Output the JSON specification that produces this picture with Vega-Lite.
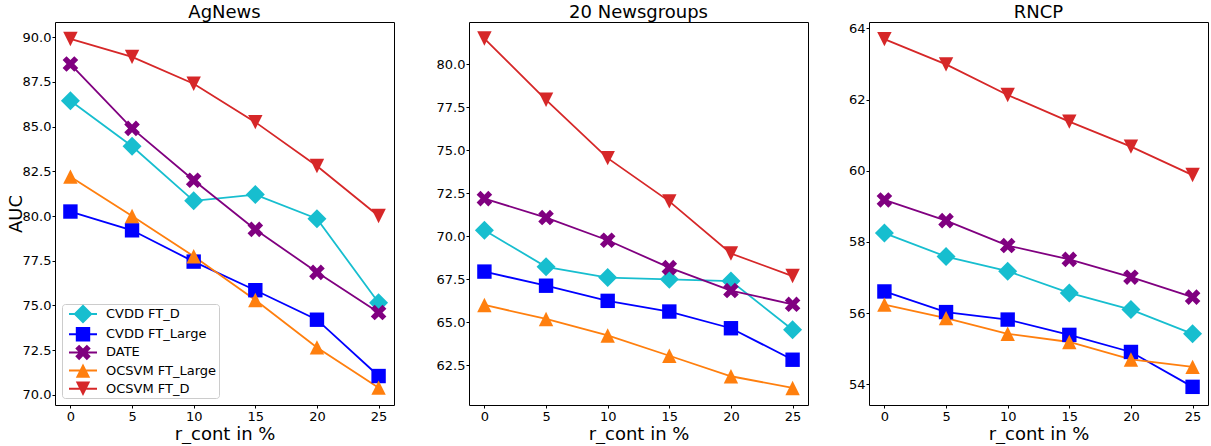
{
  "$schema": "https://vega.github.io/schema/vega-lite/v6.json",
  "padding": {"left": 6, "top": 3, "right": 0, "bottom": 0},
  "datasets": {
    "auc": [
      {"d": "AgNews", "s": "CVDD FT_D", "x": 0, "y": 86.45},
      {"d": "AgNews", "s": "CVDD FT_D", "x": 5, "y": 83.9},
      {"d": "AgNews", "s": "CVDD FT_D", "x": 10, "y": 80.85},
      {"d": "AgNews", "s": "CVDD FT_D", "x": 15, "y": 81.2},
      {"d": "AgNews", "s": "CVDD FT_D", "x": 20, "y": 79.85},
      {"d": "AgNews", "s": "CVDD FT_D", "x": 25, "y": 75.15},
      {"d": "AgNews", "s": "CVDD FT_Large", "x": 0, "y": 80.25},
      {"d": "AgNews", "s": "CVDD FT_Large", "x": 5, "y": 79.2},
      {"d": "AgNews", "s": "CVDD FT_Large", "x": 10, "y": 77.45},
      {"d": "AgNews", "s": "CVDD FT_Large", "x": 15, "y": 75.85},
      {"d": "AgNews", "s": "CVDD FT_Large", "x": 20, "y": 74.2},
      {"d": "AgNews", "s": "CVDD FT_Large", "x": 25, "y": 71.05},
      {"d": "AgNews", "s": "DATE", "x": 0, "y": 88.5},
      {"d": "AgNews", "s": "DATE", "x": 5, "y": 84.9},
      {"d": "AgNews", "s": "DATE", "x": 10, "y": 82.0},
      {"d": "AgNews", "s": "DATE", "x": 15, "y": 79.25},
      {"d": "AgNews", "s": "DATE", "x": 20, "y": 76.85},
      {"d": "AgNews", "s": "DATE", "x": 25, "y": 74.6},
      {"d": "AgNews", "s": "OCSVM FT_Large", "x": 0, "y": 82.2},
      {"d": "AgNews", "s": "OCSVM FT_Large", "x": 5, "y": 80.0},
      {"d": "AgNews", "s": "OCSVM FT_Large", "x": 10, "y": 77.75},
      {"d": "AgNews", "s": "OCSVM FT_Large", "x": 15, "y": 75.3},
      {"d": "AgNews", "s": "OCSVM FT_Large", "x": 20, "y": 72.65},
      {"d": "AgNews", "s": "OCSVM FT_Large", "x": 25, "y": 70.4},
      {"d": "AgNews", "s": "OCSVM FT_D", "x": 0, "y": 89.9},
      {"d": "AgNews", "s": "OCSVM FT_D", "x": 5, "y": 88.9},
      {"d": "AgNews", "s": "OCSVM FT_D", "x": 10, "y": 87.4},
      {"d": "AgNews", "s": "OCSVM FT_D", "x": 15, "y": 85.25},
      {"d": "AgNews", "s": "OCSVM FT_D", "x": 20, "y": 82.8},
      {"d": "AgNews", "s": "OCSVM FT_D", "x": 25, "y": 80.0},
      {"d": "20 Newsgroups", "s": "CVDD FT_D", "x": 0, "y": 70.35},
      {"d": "20 Newsgroups", "s": "CVDD FT_D", "x": 5, "y": 68.23},
      {"d": "20 Newsgroups", "s": "CVDD FT_D", "x": 10, "y": 67.6},
      {"d": "20 Newsgroups", "s": "CVDD FT_D", "x": 15, "y": 67.5},
      {"d": "20 Newsgroups", "s": "CVDD FT_D", "x": 20, "y": 67.4},
      {"d": "20 Newsgroups", "s": "CVDD FT_D", "x": 25, "y": 64.57},
      {"d": "20 Newsgroups", "s": "CVDD FT_Large", "x": 0, "y": 67.95},
      {"d": "20 Newsgroups", "s": "CVDD FT_Large", "x": 5, "y": 67.13},
      {"d": "20 Newsgroups", "s": "CVDD FT_Large", "x": 10, "y": 66.25},
      {"d": "20 Newsgroups", "s": "CVDD FT_Large", "x": 15, "y": 65.63},
      {"d": "20 Newsgroups", "s": "CVDD FT_Large", "x": 20, "y": 64.66},
      {"d": "20 Newsgroups", "s": "CVDD FT_Large", "x": 25, "y": 62.83},
      {"d": "20 Newsgroups", "s": "DATE", "x": 0, "y": 72.19},
      {"d": "20 Newsgroups", "s": "DATE", "x": 5, "y": 71.09},
      {"d": "20 Newsgroups", "s": "DATE", "x": 10, "y": 69.77},
      {"d": "20 Newsgroups", "s": "DATE", "x": 15, "y": 68.18},
      {"d": "20 Newsgroups", "s": "DATE", "x": 20, "y": 66.85},
      {"d": "20 Newsgroups", "s": "DATE", "x": 25, "y": 66.05},
      {"d": "20 Newsgroups", "s": "OCSVM FT_Large", "x": 0, "y": 66.01},
      {"d": "20 Newsgroups", "s": "OCSVM FT_Large", "x": 5, "y": 65.2},
      {"d": "20 Newsgroups", "s": "OCSVM FT_Large", "x": 10, "y": 64.24},
      {"d": "20 Newsgroups", "s": "OCSVM FT_Large", "x": 15, "y": 63.06},
      {"d": "20 Newsgroups", "s": "OCSVM FT_Large", "x": 20, "y": 61.87},
      {"d": "20 Newsgroups", "s": "OCSVM FT_Large", "x": 25, "y": 61.19},
      {"d": "20 Newsgroups", "s": "OCSVM FT_D", "x": 0, "y": 81.49},
      {"d": "20 Newsgroups", "s": "OCSVM FT_D", "x": 5, "y": 77.93},
      {"d": "20 Newsgroups", "s": "OCSVM FT_D", "x": 10, "y": 74.54},
      {"d": "20 Newsgroups", "s": "OCSVM FT_D", "x": 15, "y": 72.03},
      {"d": "20 Newsgroups", "s": "OCSVM FT_D", "x": 20, "y": 69.0},
      {"d": "20 Newsgroups", "s": "OCSVM FT_D", "x": 25, "y": 67.69},
      {"d": "RNCP", "s": "CVDD FT_D", "x": 0, "y": 58.25},
      {"d": "RNCP", "s": "CVDD FT_D", "x": 5, "y": 57.59},
      {"d": "RNCP", "s": "CVDD FT_D", "x": 10, "y": 57.18},
      {"d": "RNCP", "s": "CVDD FT_D", "x": 15, "y": 56.57},
      {"d": "RNCP", "s": "CVDD FT_D", "x": 20, "y": 56.1},
      {"d": "RNCP", "s": "CVDD FT_D", "x": 25, "y": 55.42},
      {"d": "RNCP", "s": "CVDD FT_Large", "x": 0, "y": 56.61},
      {"d": "RNCP", "s": "CVDD FT_Large", "x": 5, "y": 56.03},
      {"d": "RNCP", "s": "CVDD FT_Large", "x": 10, "y": 55.82},
      {"d": "RNCP", "s": "CVDD FT_Large", "x": 15, "y": 55.39},
      {"d": "RNCP", "s": "CVDD FT_Large", "x": 20, "y": 54.91},
      {"d": "RNCP", "s": "CVDD FT_Large", "x": 25, "y": 53.93},
      {"d": "RNCP", "s": "DATE", "x": 0, "y": 59.18},
      {"d": "RNCP", "s": "DATE", "x": 5, "y": 58.6},
      {"d": "RNCP", "s": "DATE", "x": 10, "y": 57.9},
      {"d": "RNCP", "s": "DATE", "x": 15, "y": 57.51},
      {"d": "RNCP", "s": "DATE", "x": 20, "y": 57.01},
      {"d": "RNCP", "s": "DATE", "x": 25, "y": 56.45},
      {"d": "RNCP", "s": "OCSVM FT_Large", "x": 0, "y": 56.24},
      {"d": "RNCP", "s": "OCSVM FT_Large", "x": 5, "y": 55.86},
      {"d": "RNCP", "s": "OCSVM FT_Large", "x": 10, "y": 55.42},
      {"d": "RNCP", "s": "OCSVM FT_Large", "x": 15, "y": 55.19},
      {"d": "RNCP", "s": "OCSVM FT_Large", "x": 20, "y": 54.7},
      {"d": "RNCP", "s": "OCSVM FT_Large", "x": 25, "y": 54.49},
      {"d": "RNCP", "s": "OCSVM FT_D", "x": 0, "y": 63.7},
      {"d": "RNCP", "s": "OCSVM FT_D", "x": 5, "y": 62.99},
      {"d": "RNCP", "s": "OCSVM FT_D", "x": 10, "y": 62.13},
      {"d": "RNCP", "s": "OCSVM FT_D", "x": 15, "y": 61.38},
      {"d": "RNCP", "s": "OCSVM FT_D", "x": 20, "y": 60.68},
      {"d": "RNCP", "s": "OCSVM FT_D", "x": 25, "y": 59.88}
    ]
  },
  "data": {"name": "auc"},
  "spacing": 40,
  "resolve": {"scale": {"color": "independent", "shape": "independent"}, "legend": {"color": "independent", "shape": "independent"}},
  "hconcat": [
    {
      "width": 339,
      "height": 383,
      "title": "AgNews",
      "transform": [{"filter": "datum.d === 'AgNews'"}],
      "encoding": {
        "x": {"field": "x", "type": "quantitative", "scale": {"domain": [-1.25, 26.25], "nice": false, "zero": false}, "axis": {"values": [0, 5, 10, 15, 20, 25], "title": "r_cont in %", "labelPadding": 2, "titlePadding": 2.5}},
        "y": {"field": "y", "type": "quantitative", "scale": {"domain": [69.43, 90.85], "nice": false, "zero": false}, "axis": {"values": [70, 72.5, 75, 77.5, 80, 82.5, 85, 87.5, 90], "format": ".1f", "title": "AUC", "titlePadding": -3}}
      },
      "resolve": {"scale": {"color": "independent", "shape": "independent"}},
      "layer": [
        {
          "mark": {"type": "line", "strokeWidth": 1.8},
          "encoding": {
            "stroke": {"field": "s", "type": "nominal", "legend": null, "scale": {"domain": ["CVDD FT_D", "CVDD FT_Large", "DATE", "OCSVM FT_Large", "OCSVM FT_D"], "range": ["#17becf", "#0000ff", "#800080", "#ff7f0e", "#d62728"]}}
          }
        },
        {
          "mark": {"type": "point", "filled": true, "opacity": 1, "size": 400},
          "encoding": {
            "color": {"field": "s", "type": "nominal", "legend": null, "scale": {"domain": ["CVDD FT_D", "CVDD FT_Large", "DATE", "OCSVM FT_Large", "OCSVM FT_D"], "range": ["#17becf", "#0000ff", "#800080", "#ff7f0e", "#d62728"]}},
            "shape": {"field": "s", "type": "nominal", "legend": null, "scale": {"domain": ["CVDD FT_D", "CVDD FT_Large", "DATE", "OCSVM FT_Large", "OCSVM FT_D"], "range": ["M-0.95,0L0,-0.95L0.95,0L0,0.95Z", "M-0.72,-0.72H0.72V0.72H-0.72Z", "M0.39,-0.78L0.78,-0.39L0.39,0L0.78,0.39L0.39,0.78L0,0.39L-0.39,0.78L-0.78,0.39L-0.39,0L-0.78,-0.39L-0.39,-0.78L0,-0.39Z", "M0,-0.72L0.72,0.72L-0.72,0.72Z", "M0,0.72L-0.72,-0.72L0.72,-0.72Z"]}}
          }
        },
        {
          "transform": [{"filter": "datum.x < -100"}],
          "mark": {"type": "point", "filled": true, "opacity": 1, "size": 256},
          "encoding": {
            "color": {"field": "s", "type": "nominal", "scale": {"domain": ["CVDD FT_D", "CVDD FT_Large", "DATE", "OCSVM FT_Large", "OCSVM FT_D"], "range": ["#17becf", "#0000ff", "#800080", "#ff7f0e", "#d62728"]},
              "legend": {"title": null, "orient": "bottom-left", "offset": 7, "padding": 2, "rowPadding": 2.2, "symbolOffset": 11, "labelOffset": 15, "labelFontSize": 13, "labelFont": "DejaVu Sans", "labelColor": "#000", "labelLimit": 300, "fillColor": "rgba(255,255,255,0.8)", "strokeColor": "#cccccc", "cornerRadius": 3, "symbolSize": 256, "symbolStrokeWidth": 0}},
            "shape": {"field": "s", "type": "nominal", "scale": {"domain": ["CVDD FT_D", "CVDD FT_Large", "DATE", "OCSVM FT_Large", "OCSVM FT_D"], "range": ["M-1.75,-0.125H1.75V0.125H-1.75ZM-1.19,0L0,-1.19L1.19,0L0,1.19Z", "M-1.75,-0.125H1.75V0.125H-1.75ZM-0.9,-0.9H0.9V0.9H-0.9Z", "M-1.75,-0.125H1.75V0.125H-1.75ZM0.48,-0.97L0.97,-0.48L0.48,0L0.97,0.48L0.48,0.97L0,0.48L-0.48,0.97L-0.97,0.48L-0.48,0L-0.97,-0.48L-0.48,-0.97L0,-0.48Z", "M-1.75,-0.125H1.75V0.125H-1.75ZM0,-0.9L0.9,0.9L-0.9,0.9Z", "M-1.75,-0.125H1.75V0.125H-1.75ZM0,0.9L-0.9,-0.9L0.9,-0.9Z"]},
              "legend": {"title": null, "orient": "bottom-left", "offset": 7, "padding": 2, "rowPadding": 2.2, "symbolOffset": 11, "labelOffset": 15, "labelFontSize": 13, "labelFont": "DejaVu Sans", "labelColor": "#000", "labelLimit": 300, "fillColor": "rgba(255,255,255,0.8)", "strokeColor": "#cccccc", "cornerRadius": 3, "symbolSize": 256, "symbolStrokeWidth": 0}}
          }
        }
      ]
    },
    {
      "spacing": 38,
      "resolve": {"scale": {"color": "independent", "shape": "independent"}, "legend": {"color": "independent", "shape": "independent"}},
      "hconcat": [
        {
          "width": 339,
          "height": 383,
          "title": "20 Newsgroups",
          "transform": [{"filter": "datum.d === '20 Newsgroups'"}],
          "encoding": {
            "x": {"field": "x", "type": "quantitative", "scale": {"domain": [-1.25, 26.25], "nice": false, "zero": false}, "axis": {"values": [0, 5, 10, 15, 20, 25], "title": "r_cont in %", "labelPadding": 2, "titlePadding": 2.5}},
            "y": {"field": "y", "type": "quantitative", "scale": {"domain": [60.2, 82.45], "nice": false, "zero": false}, "axis": {"values": [62.5, 65, 67.5, 70, 72.5, 75, 77.5, 80], "format": ".1f", "title": null}}
          },
          "layer": [
            {
              "mark": {"type": "line", "strokeWidth": 1.8},
              "encoding": {
                "stroke": {"field": "s", "type": "nominal", "legend": null, "scale": {"domain": ["CVDD FT_D", "CVDD FT_Large", "DATE", "OCSVM FT_Large", "OCSVM FT_D"], "range": ["#17becf", "#0000ff", "#800080", "#ff7f0e", "#d62728"]}}
              }
            },
            {
              "mark": {"type": "point", "filled": true, "opacity": 1, "size": 400},
              "encoding": {
                "color": {"field": "s", "type": "nominal", "legend": null, "scale": {"domain": ["CVDD FT_D", "CVDD FT_Large", "DATE", "OCSVM FT_Large", "OCSVM FT_D"], "range": ["#17becf", "#0000ff", "#800080", "#ff7f0e", "#d62728"]}},
                "shape": {"field": "s", "type": "nominal", "legend": null, "scale": {"domain": ["CVDD FT_D", "CVDD FT_Large", "DATE", "OCSVM FT_Large", "OCSVM FT_D"], "range": ["M-0.95,0L0,-0.95L0.95,0L0,0.95Z", "M-0.72,-0.72H0.72V0.72H-0.72Z", "M0.39,-0.78L0.78,-0.39L0.39,0L0.78,0.39L0.39,0.78L0,0.39L-0.39,0.78L-0.78,0.39L-0.39,0L-0.78,-0.39L-0.39,-0.78L0,-0.39Z", "M0,-0.72L0.72,0.72L-0.72,0.72Z", "M0,0.72L-0.72,-0.72L0.72,-0.72Z"]}}
              }
            }
          ]
        },
        {
          "width": 339,
          "height": 383,
          "title": "RNCP",
          "transform": [{"filter": "datum.d === 'RNCP'"}],
          "encoding": {
            "x": {"field": "x", "type": "quantitative", "scale": {"domain": [-1.25, 26.25], "nice": false, "zero": false}, "axis": {"values": [0, 5, 10, 15, 20, 25], "title": "r_cont in %", "labelPadding": 2, "titlePadding": 2.5}},
            "y": {"field": "y", "type": "quantitative", "scale": {"domain": [53.42, 64.18], "nice": false, "zero": false}, "axis": {"values": [54, 56, 58, 60, 62, 64], "format": "d", "title": null}}
          },
          "layer": [
            {
              "mark": {"type": "line", "strokeWidth": 1.8},
              "encoding": {
                "stroke": {"field": "s", "type": "nominal", "legend": null, "scale": {"domain": ["CVDD FT_D", "CVDD FT_Large", "DATE", "OCSVM FT_Large", "OCSVM FT_D"], "range": ["#17becf", "#0000ff", "#800080", "#ff7f0e", "#d62728"]}}
              }
            },
            {
              "mark": {"type": "point", "filled": true, "opacity": 1, "size": 400},
              "encoding": {
                "color": {"field": "s", "type": "nominal", "legend": null, "scale": {"domain": ["CVDD FT_D", "CVDD FT_Large", "DATE", "OCSVM FT_Large", "OCSVM FT_D"], "range": ["#17becf", "#0000ff", "#800080", "#ff7f0e", "#d62728"]}},
                "shape": {"field": "s", "type": "nominal", "legend": null, "scale": {"domain": ["CVDD FT_D", "CVDD FT_Large", "DATE", "OCSVM FT_Large", "OCSVM FT_D"], "range": ["M-0.95,0L0,-0.95L0.95,0L0,0.95Z", "M-0.72,-0.72H0.72V0.72H-0.72Z", "M0.39,-0.78L0.78,-0.39L0.39,0L0.78,0.39L0.39,0.78L0,0.39L-0.39,0.78L-0.78,0.39L-0.39,0L-0.78,-0.39L-0.39,-0.78L0,-0.39Z", "M0,-0.72L0.72,0.72L-0.72,0.72Z", "M0,0.72L-0.72,-0.72L0.72,-0.72Z"]}}
              }
            }
          ]
        }
      ]
    }
  ],
  "config": {
    "view": {"stroke": "#000", "strokeWidth": 1},
    "font": "DejaVu Sans",
    "axis": {"domain": false, "grid": false, "ticks": true, "tickColor": "#000", "tickSize": 3, "tickWidth": 1, "labelColor": "#000", "labelFont": "DejaVu Sans", "labelFontSize": 13, "labelPadding": 1, "titleColor": "#000", "titleFont": "DejaVu Sans", "titleFontSize": 18, "titleFontWeight": "normal", "titlePadding": 4},
    "title": {"font": "DejaVu Sans", "fontSize": 18, "fontWeight": "normal", "color": "#000", "offset": 0.01, "baseline": "alphabetic"}
  }
}
